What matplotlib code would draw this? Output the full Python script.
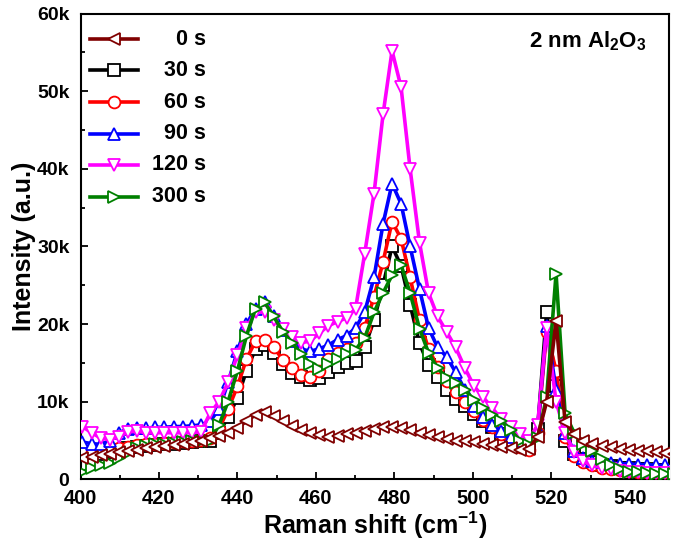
import matplotlib
matplotlib.use("Agg")
import matplotlib.pyplot as plt
from matplotlib.ticker import MultipleLocator, FuncFormatter

plt.rcParams['font.family'] = ['Liberation Sans', 'DejaVu Sans']
plt.rcParams['font.weight'] = 'bold'
plt.rcParams['mathtext.fontset'] = 'custom'
plt.rcParams['mathtext.rm'] = 'Liberation Sans:bold'
plt.rcParams['mathtext.bf'] = 'Liberation Sans:bold'
plt.rcParams['mathtext.default'] = 'bf'

# Raman shift (cm-1)
shift = [398.2, 400.5, 402.8, 405.2, 407.5, 409.8, 412.1, 414.4, 416.8, 419.1,
         421.4, 423.7, 426.0, 428.4, 430.7, 433.0, 435.3, 437.6, 440.0, 442.3,
         444.6, 446.9, 449.2, 451.6, 453.9, 456.2, 458.5, 460.8, 463.2, 465.5,
         467.8, 470.1, 472.4, 474.8, 477.1, 479.4, 481.7, 484.0, 486.4, 488.7,
         491.0, 493.3, 495.6, 498.0, 500.3, 502.6, 504.9, 507.2, 509.6, 511.9,
         514.2, 516.5, 518.8, 521.2, 523.5, 525.8, 528.1, 530.4, 532.8, 535.1,
         537.4, 539.7, 542.0, 544.4, 546.7, 549.0, 551.3]

# intensities in thousands
i_0s = [2.5, 2.7, 2.9, 3.1, 3.3, 3.5, 3.7, 3.8, 4.0, 4.1,
        4.3, 4.4, 4.6, 4.8, 5.0, 5.3, 5.6, 6.0, 6.6, 7.5,
        8.3, 8.7, 8.1, 7.5, 6.9, 6.4, 6.0, 5.7, 5.5, 5.6,
        5.8, 6.0, 6.2, 6.5, 6.7, 6.8, 6.6, 6.3, 6.0, 5.7,
        5.5, 5.2, 5.0, 4.9, 4.8, 4.6, 4.4, 4.2, 4.0, 3.8,
        3.9, 5.5, 10.0, 20.4, 7.4, 5.8, 5.0, 4.6, 4.3, 4.1,
        3.9, 3.8, 3.7, 3.6, 3.5, 3.4, 3.3]
i_30s = [3.5, 3.5, 3.4, 3.3, 3.5, 3.8, 4.0, 4.2, 4.3, 4.4,
         4.5, 4.6, 4.7, 4.8, 4.9, 5.0, 6.0, 8.0, 10.5, 14.0,
         16.8, 17.3, 16.3, 14.8, 13.7, 13.2, 12.8, 13.0, 13.8, 14.5,
         15.0, 15.2, 17.0, 20.5, 25.0, 30.0, 27.5, 22.5, 17.5, 14.7,
         13.2, 11.5, 10.4, 9.4, 8.4, 7.5, 6.8, 5.8, 4.9, 4.3,
         4.2, 6.5, 21.6, 12.0, 5.0, 3.2, 2.6, 2.2, 1.9, 1.7,
         1.5, 1.4, 1.3, 1.3, 1.2, 1.2, 1.2]
i_60s = [3.6, 3.6, 3.5, 3.6, 3.8, 4.0, 4.2, 4.4, 4.5, 4.6,
         4.7, 4.8, 4.9, 5.0, 5.1, 5.3, 6.5, 9.0, 12.0, 15.5,
         17.8, 17.9, 17.0, 15.4, 14.4, 13.5, 13.2, 14.0, 15.5, 16.3,
         16.8, 17.5, 19.5, 23.5, 28.0, 33.2, 31.0, 26.0, 20.5, 16.8,
         14.5, 12.7, 11.3, 10.0, 8.8, 7.6, 6.7, 5.8, 4.9, 4.2,
         3.8, 6.0, 19.0, 14.0, 5.5, 3.0, 2.2, 1.8, 1.5, 1.3,
         1.2, 1.1, 1.0, 1.0, 0.9, 0.9, 0.9]
i_90s = [5.0, 4.8, 4.6, 4.5, 5.0, 6.0, 6.5, 6.6, 6.6, 6.7,
         6.7, 6.8, 6.8, 6.9, 7.0, 7.5, 9.0, 12.5, 16.5, 20.0,
         22.0, 22.8, 21.0, 19.2, 17.8, 16.8, 16.5, 16.8, 17.3, 18.0,
         18.5, 19.5, 21.5, 26.0, 32.9, 38.1, 35.5, 30.0, 24.5, 19.5,
         17.0, 15.8, 13.8, 11.5, 9.5, 8.0, 7.0, 6.2, 5.5, 5.0,
         4.7, 6.5, 19.7, 11.5, 6.0, 3.6, 2.8, 2.4, 2.2, 2.1,
         2.0, 2.0, 1.9, 1.9, 1.8, 1.8, 1.8]
i_120s = [6.8, 6.8, 6.0, 5.3, 5.1, 5.5, 6.1, 6.2, 6.0, 6.0,
          6.0, 6.0, 6.0, 6.0, 6.1, 8.5, 10.0, 12.5, 16.0, 19.5,
          21.6, 21.5, 20.5, 19.3, 18.3, 17.6, 17.8, 18.8, 19.8, 20.3,
          20.8, 22.0, 29.0, 36.8, 47.0, 55.2, 50.5, 40.0, 30.5, 24.0,
          21.0, 19.0, 17.0, 14.3, 12.0, 10.6, 9.2, 7.8, 6.8, 5.8,
          5.0, 7.0, 19.5, 10.0, 6.0, 3.5, 2.3, 1.8, 1.5, 1.3,
          1.1, 1.0, 0.9, 0.8, 0.8, 0.8, 0.8]
i_300s = [0.8, 1.0, 1.4, 1.8, 2.1, 2.7, 3.4, 4.0, 4.3, 4.5,
          4.6, 4.7, 4.8, 4.9, 5.0, 5.0, 7.0, 10.0, 14.0, 18.5,
          22.0, 22.8, 21.0, 19.0, 17.6, 16.2, 14.9, 14.2, 14.8, 15.5,
          16.2, 16.7, 18.2, 21.5, 24.0, 26.3, 27.6, 24.0, 19.4, 16.3,
          14.3, 13.1, 12.4, 11.5, 10.2, 9.2, 8.3, 7.5, 6.4, 5.0,
          4.4, 5.3, 10.6, 26.5, 8.5, 6.0, 4.6, 3.6, 2.6, 1.9,
          1.3, 1.0, 0.9, 0.8, 0.7, 0.7, 0.7]

labels = ['0 s', '30 s', '60 s', '90 s', '120 s', '300 s']
series = [i_0s, i_30s, i_60s, i_90s, i_120s, i_300s]
colors = ['#800000', '#000000', '#FF0000', '#0000FF', '#FF00FF', '#008000']
markers = ['<', 's', 'o', '^', 'v', '>']
zorders = [8, 3, 4, 5, 6, 7]

fig = plt.figure(figsize=(6.75, 5.44), dpi=100)
ax = fig.add_axes([0.1193, 0.1189, 0.8719, 0.8562])

for lab, vals, c, m, z in zip(labels, series, colors, markers, zorders):
    ax.plot(shift, [v * 1000 for v in vals], color=c, lw=2.6, marker=m, ms=8.5,
            mfc='white', mec=c, mew=1.3, zorder=z, clip_on=True)

ax.set_xlim(400, 550)
ax.set_ylim(0, 60000)
ax.xaxis.set_major_locator(MultipleLocator(20))
ax.xaxis.set_minor_locator(MultipleLocator(10))
ax.yaxis.set_major_locator(MultipleLocator(10000))
ax.yaxis.set_minor_locator(MultipleLocator(5000))
ax.yaxis.set_major_formatter(FuncFormatter(lambda v, p: '0' if v == 0 else '%dk' % round(v / 1000)))
ax.tick_params(which='both', direction='in', width=1.3)
ax.tick_params(which='major', length=5)
ax.tick_params(which='minor', length=3)
ax.tick_params(axis='y', labelsize=14, pad=8)
ax.tick_params(axis='x', labelsize=14.5, pad=7)
for sp in ax.spines.values():
    sp.set_linewidth(1.5)

ax.set_xlabel(r'Raman shift (cm$^{-1}$)', fontsize=18, fontweight='bold', labelpad=1)
ax.set_ylabel('Intensity (a.u.)', fontsize=18, fontweight='bold', labelpad=1)

# legend drawn by hand so the labels are right-aligned
row_y = [0.945, 0.878, 0.810, 0.742, 0.675, 0.607]
for lab, c, m, yy in zip(labels, colors, markers, row_y):
    ax.plot([0.016, 0.057, 0.098], [yy, yy, yy], transform=ax.transAxes,
            color=c, lw=2.6, marker=m, ms=8.5, mfc='white', mec=c, mew=1.3,
            markevery=[1], zorder=10)
    ax.text(0.213, yy, lab, transform=ax.transAxes, ha='right', va='center',
            fontsize=15.5, fontweight='bold')

ax.text(0.962, 0.966, r'2 nm Al$_2$O$_3$', transform=ax.transAxes, ha='right',
        va='top', fontsize=16, fontweight='bold')

fig.savefig('out.png', dpi=100)
